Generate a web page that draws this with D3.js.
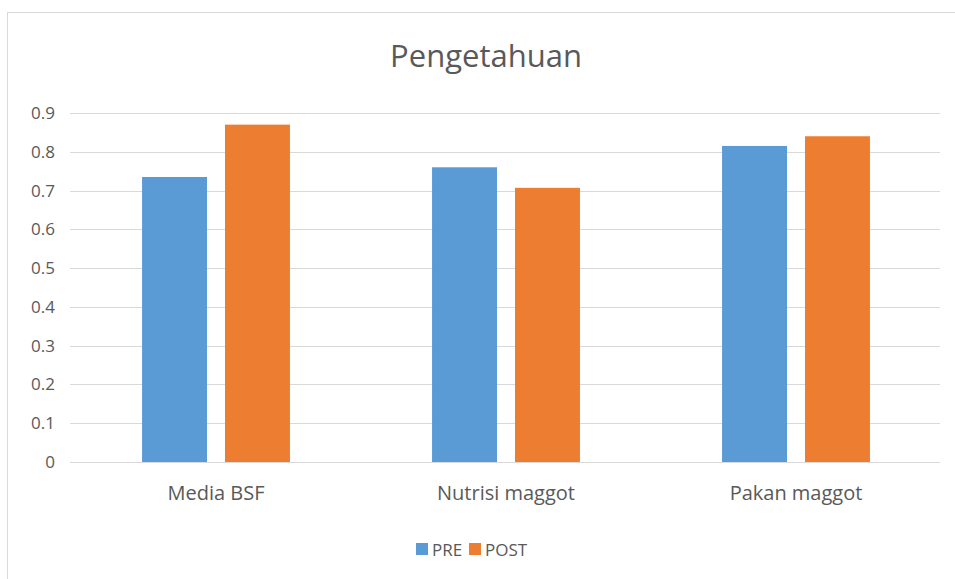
<!DOCTYPE html>
<html>
<head>
<meta charset="utf-8">
<script src="https://cdn.jsdelivr.net/npm/d3@7"></script>
<style>
  body { margin: 0; background: #fff; }
  text { font-family: "Open Sans", "DejaVu Sans", sans-serif; fill: #595959; }
</style>
</head>
<body>
<div id="chart"></div>
<script>
// data
var categories = ["Media BSF", "Nutrisi maggot", "Pakan maggot"];
var series = ["PRE", "POST"];
var preValues = [0.735, 0.76, 0.815];
var postValues = [0.87, 0.707, 0.84];
var yTicks = [0, 0.1, 0.2, 0.3, 0.4, 0.5, 0.6, 0.7, 0.8, 0.9];

var w = 955, h = 579;
var colors = { PRE: "#5b9bd5", POST: "#ed7d31" };

var svg = d3.select("#chart")
    .append("svg")
    .attr("width", w)
    .attr("height", h);

// chart border
svg.append("rect")
    .attr("x", 7.5)
    .attr("y", 12.5)
    .attr("width", 1000)
    .attr("height", 700)
    .attr("fill", "none")
    .attr("stroke", "#d9d9d9");

svg.append("text")
    .attr("x", 486)
    .attr("y", 67)
    .attr("text-anchor", "middle")
    .style("font-size", "31px")
    .text("Pengetahuan");

var x0 = d3.scaleBand()
    .domain(categories)
    .range([71, 941])
    .paddingInner(0.49)
    .paddingOuter(0.245);

var x1 = d3.scaleBand()
    .domain(series)
    .range([0, x0.bandwidth()])
    .paddingInner(0.217);

var y = d3.scaleLinear()
    .domain([0, 0.9])
    .range([462, 113]);

// gridlines
svg.append("g")
    .selectAll("line")
    .data(yTicks)
    .enter()
    .append("line")
    .attr("x1", 70)
    .attr("x2", 940)
    .attr("y1", function(d) { return Math.round(y(d)) + 0.5; })
    .attr("y2", function(d) { return Math.round(y(d)) + 0.5; })
    .attr("stroke", "#d9d9d9")
    .attr("stroke-width", 1);

// y labels
svg.append("g")
    .selectAll("text")
    .data(yTicks)
    .enter()
    .append("text")
    .attr("x", 55)
    .attr("y", function(d) { return y(d) + 6; })
    .attr("text-anchor", "end")
    .style("font-size", "17px")
    .text(function(d) { return d === 0 ? "0" : d3.format(".1f")(d); });

var table = categories.map(function(c, i) {
    return { cat: c, PRE: preValues[i], POST: postValues[i] };
});

var groups = svg.append("g")
    .selectAll("g")
    .data(table)
    .enter()
    .append("g")
    .attr("transform", function(d) { return "translate(" + x0(d.cat) + ",0)"; });

groups.selectAll("rect")
    .data(function(d) { return series.map(function(s) { return { key: s, value: d[s] }; }); })
    .enter()
    .append("rect")
    .attr("x", function(d) { return x1(d.key); })
    .attr("y", function(d) { return y(d.value); })
    .attr("width", x1.bandwidth())
    .attr("height", function(d) { return y(0) - y(d.value); })
    .attr("fill", function(d) { return colors[d.key]; });

// category labels
svg.append("g")
    .selectAll("text")
    .data(categories)
    .enter()
    .append("text")
    .attr("x", function(d) { return x0(d) + x0.bandwidth() / 2; })
    .attr("y", 500)
    .attr("text-anchor", "middle")
    .style("font-size", "20px")
    .text(function(d) { return d; });

// legend
var legendX = [416, 469];
var legend = svg.append("g")
    .selectAll("g")
    .data(series)
    .enter()
    .append("g")
    .attr("transform", function(d, i) { return "translate(" + legendX[i] + ",543)"; });

legend.append("rect")
    .attr("width", 12)
    .attr("height", 12)
    .attr("fill", function(d) { return colors[d]; });

legend.append("text")
    .attr("x", 16)
    .attr("y", 13)
    .style("font-size", "17px")
    .text(function(d) { return d; });
</script>
</body>
</html>
